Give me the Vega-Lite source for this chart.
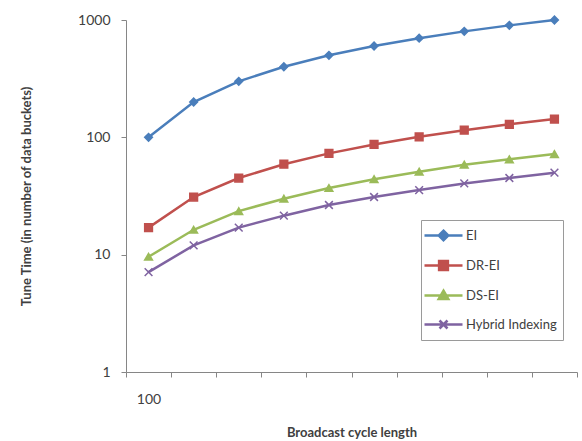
{
  "$schema": "https://vega.github.io/schema/vega-lite/v6.json",
  "width": 451,
  "height": 352,
  "autosize": "none",
  "padding": {"left": 126, "top": 20, "right": 5, "bottom": 69},
  "background": "white",
  "config": {"view": {"stroke": null}, "font": "Lato"},
  "data": {
    "values": [
      {"cycle": 100, "series": "EI", "tune": 100},
      {"cycle": 200, "series": "EI", "tune": 200},
      {"cycle": 300, "series": "EI", "tune": 300},
      {"cycle": 400, "series": "EI", "tune": 400},
      {"cycle": 500, "series": "EI", "tune": 500},
      {"cycle": 600, "series": "EI", "tune": 600},
      {"cycle": 700, "series": "EI", "tune": 700},
      {"cycle": 800, "series": "EI", "tune": 800},
      {"cycle": 900, "series": "EI", "tune": 900},
      {"cycle": 1000, "series": "EI", "tune": 1000},
      {"cycle": 100, "series": "DR-EI", "tune": 17},
      {"cycle": 200, "series": "DR-EI", "tune": 31},
      {"cycle": 300, "series": "DR-EI", "tune": 45},
      {"cycle": 400, "series": "DR-EI", "tune": 59},
      {"cycle": 500, "series": "DR-EI", "tune": 73},
      {"cycle": 600, "series": "DR-EI", "tune": 87},
      {"cycle": 700, "series": "DR-EI", "tune": 101},
      {"cycle": 800, "series": "DR-EI", "tune": 115},
      {"cycle": 900, "series": "DR-EI", "tune": 129},
      {"cycle": 1000, "series": "DR-EI", "tune": 143},
      {"cycle": 100, "series": "DS-EI", "tune": 9.6},
      {"cycle": 200, "series": "DS-EI", "tune": 16.3},
      {"cycle": 300, "series": "DS-EI", "tune": 23.5},
      {"cycle": 400, "series": "DS-EI", "tune": 30},
      {"cycle": 500, "series": "DS-EI", "tune": 37},
      {"cycle": 600, "series": "DS-EI", "tune": 44},
      {"cycle": 700, "series": "DS-EI", "tune": 51},
      {"cycle": 800, "series": "DS-EI", "tune": 58.5},
      {"cycle": 900, "series": "DS-EI", "tune": 65},
      {"cycle": 1000, "series": "DS-EI", "tune": 72},
      {"cycle": 100, "series": "Hybrid Indexing", "tune": 7.1},
      {"cycle": 200, "series": "Hybrid Indexing", "tune": 12},
      {"cycle": 300, "series": "Hybrid Indexing", "tune": 17},
      {"cycle": 400, "series": "Hybrid Indexing", "tune": 21.5},
      {"cycle": 500, "series": "Hybrid Indexing", "tune": 26.5},
      {"cycle": 600, "series": "Hybrid Indexing", "tune": 31},
      {"cycle": 700, "series": "Hybrid Indexing", "tune": 35.5},
      {"cycle": 800, "series": "Hybrid Indexing", "tune": 40.5},
      {"cycle": 900, "series": "Hybrid Indexing", "tune": 45},
      {"cycle": 1000, "series": "Hybrid Indexing", "tune": 50}
    ]
  },
  "encoding": {
    "x": {
      "field": "cycle",
      "type": "ordinal",
      "bandPosition": 0.5,
      "scale": {"type": "band", "paddingInner": 0, "paddingOuter": 0},
      "axis": {
        "title": "Broadcast cycle length",
        "tickBand": "extent",
        "labelExpr": "datum.label == '100' ? '100' : ''",
        "labelAngle": 0,
        "labelFontSize": 14,
        "labelColor": "#404040",
        "labelPadding": 15,
        "tickSize": 5,
        "tickColor": "#868686",
        "domainColor": "#868686",
        "titleFontSize": 13,
        "titleFontWeight": "bold",
        "titleColor": "#404040",
        "titlePadding": 20,
        "grid": false
      }
    },
    "y": {
      "field": "tune",
      "type": "quantitative",
      "scale": {"type": "log", "domain": [1, 1000]},
      "axis": {
        "title": "Tune Time (in number of data buckets)",
        "values": [1, 10, 100, 1000],
        "format": "d",
        "grid": false,
        "tickSize": 5,
        "tickColor": "#868686",
        "domainColor": "#868686",
        "labelFontSize": 14,
        "labelColor": "#404040",
        "labelPadding": 11,
        "titleFontSize": 13,
        "titleFontWeight": "bold",
        "titleColor": "#404040",
        "titlePadding": 44
      }
    }
  },
  "resolve": {"legend": {"color": "independent"}},
  "layer": [
    {
      "mark": {"type": "line", "strokeWidth": 2.5},
      "encoding": {
        "color": {
          "field": "series",
          "type": "nominal",
          "scale": {
            "domain": ["EI", "DR-EI", "DS-EI", "Hybrid Indexing"],
            "range": ["#4A7EBB", "#C0504D", "#9BBB59", "#7F63A1"]
          },
          "legend": {
            "title": null,
            "orient": "none",
            "legendX": 295,
            "legendY": 200,
            "padding": 6,
            "strokeColor": "#9a9a9a",
            "fillColor": "white",
            "symbolSize": 256,
            "symbolOffset": 7,
            "symbolStrokeWidth": 2.5,
            "rowPadding": 10,
            "labelOffset": 13,
            "labelFontSize": 13,
            "labelColor": "#404040",
            "encode": {
              "symbols": {
                "update": {
                  "shape": {"signal": "datum.value === 'EI' ? 'M-2.375,0H2.375M0,-0.6L0.6,0L0,0.6L-0.6,0Z' : datum.value === 'DR-EI' ? 'M-2.375,0H2.375M-0.55,-0.55H0.55V0.55H-0.55Z' : datum.value === 'DS-EI' ? 'M-2.375,0H2.375M0,-0.6L0.6,0.45L-0.6,0.45Z' : 'M-2.375,0H2.375M-0.5,-0.5L0.5,0.5M-0.5,0.5L0.5,-0.5'"},
                  "fill": {"signal": "scale('color', datum.value)"},
                  "opacity": {"value": 1},
                  "fillOpacity": {"value": 1},
                  "strokeWidth": {"value": 2.5}
                }
              }
            }
          }
        }
      }
    },
    {
      "mark": {"type": "point", "filled": true, "opacity": 1, "size": 60, "strokeWidth": 1.5},
      "encoding": {
        "color": {"field": "series", "type": "nominal", "legend": null},
        "shape": {
          "field": "series",
          "type": "nominal",
          "scale": {
            "domain": ["EI", "DR-EI", "DS-EI", "Hybrid Indexing"],
            "range": ["diamond", "square", "triangle-up", "M-1,-1L1,1M-1,1L1,-1"]
          },
          "legend": null
        },
        "stroke": {
          "field": "series",
          "type": "nominal",
          "scale": {
            "domain": ["EI", "DR-EI", "DS-EI", "Hybrid Indexing"],
            "range": ["#4A7EBB", "#C0504D", "#9BBB59", "#7F63A1"]
          },
          "legend": null
        }
      }
    }
  ]
}
